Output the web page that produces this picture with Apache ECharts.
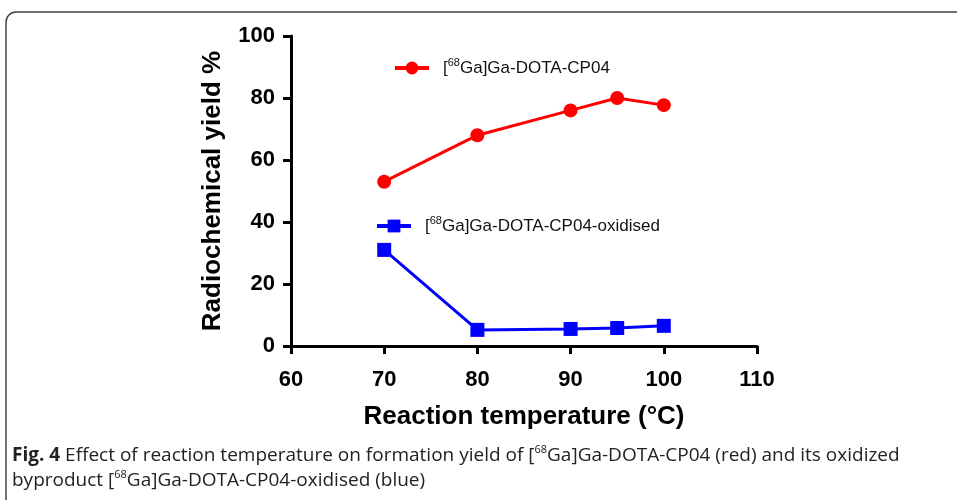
<!DOCTYPE html>
<html><head><meta charset="utf-8">
<script src="https://cdn.jsdelivr.net/npm/echarts@6/dist/echarts.min.js"></script>
<style>html,body{margin:0;padding:0;background:#fff}#c{width:957px;height:500px}</style>
</head><body><div id="c"></div>
<script>
const temps = [70, 80, 90, 95, 100];
const yieldMain = [53, 68, 76, 80, 77.7];
const yieldOxidised = [31, 5.2, 5.5, 5.8, 6.5];
const seriesNames = ['[68Ga]Ga-DOTA-CP04', '[68Ga]Ga-DOTA-CP04-oxidised'];
const legendLabels = ['[{sup|68}Ga]Ga-DOTA-CP04', '[{sup|68}Ga]Ga-DOTA-CP04-oxidised'];
const xTicks = [60, 70, 80, 90, 100, 110];
const yTicks = [0, 20, 40, 60, 80, 100];
const xTitle = 'Reaction temperature (°C)';
const yTitle = 'Radiochemical yield %';
const captionBold = 'Fig. 4';
const captionLine1 = ' Effect of reaction temperature on formation yield of [{s|68}Ga]Ga-DOTA-CP04 (red) and its oxidized';
const captionLine2 = 'byproduct [{s|68}Ga]Ga-DOTA-CP04-oxidised (blue)';

const F = '"Liberation Sans", Arial, sans-serif';
const chart = echarts.init(document.getElementById('c'), null, {renderer: 'canvas'});
const legendText = (pad) => ({
  fontFamily: F, fontSize: 17, color: '#111', lineHeight: 22, padding: [0, 0, 0, pad],
  rich: { sup: { fontFamily: F, fontSize: 11, color: '#111', lineHeight: 11, verticalAlign: 'top' } }
});
const capFont = '"Open Sans", sans-serif';
const supCap = { fontFamily: capFont, fontSize: 11, fill: '#222', lineHeight: 11, verticalAlign: 'top' };
chart.setOption({
  animation: false,
  graphic: [
    { type: 'rect', shape: { x: 6, y: 12, width: 1100, height: 700, r: 10 }, style: { fill: 'none', stroke: '#444', lineWidth: 1.5 }, z: -1 },
    { type: 'text', left: 12, top: 444, style: {
        text: '{b|' + captionBold + '}' + captionLine1, fontFamily: capFont, fontSize: 19, lineHeight: 24, fill: '#222',
        rich: { b: { fontFamily: capFont, fontSize: 19, lineHeight: 24, fontWeight: 'bold', fill: '#222' }, s: supCap } } },
    { type: 'text', left: 12, top: 469, style: {
        text: captionLine2, fontFamily: capFont, fontSize: 19, lineHeight: 24, fill: '#222',
        rich: { s: supCap } } }
  ],
  grid: { left: 291, right: 200, top: 36, bottom: 154, containLabel: false },
  legend: [
    { data: [seriesNames[0]], left: 393, top: 57, padding: 0, itemWidth: 34, itemHeight: 16, itemGap: 16,
      lineStyle: { width: 4 }, formatter: () => legendLabels[0], textStyle: legendText(9) },
    { data: [seriesNames[1]], left: 375, top: 215, padding: 0, itemWidth: 34, itemHeight: 16, itemGap: 16,
      lineStyle: { width: 4 }, formatter: () => legendLabels[1], textStyle: legendText(9) }
  ],
  xAxis: {
    type: 'value', min: xTicks[0], max: xTicks[xTicks.length - 1], interval: 10,
    name: xTitle, nameLocation: 'middle', nameGap: 58,
    nameTextStyle: { fontFamily: F, fontWeight: 'bold', fontSize: 26, color: '#000' },
    axisLine: { show: true, onZero: false, lineStyle: { color: '#000', width: 3 } },
    axisTick: { show: true, length: 8, lineStyle: { color: '#000', width: 3 } },
    axisLabel: { fontFamily: F, fontWeight: 'bold', fontSize: 22, color: '#000', margin: 23 },
    splitLine: { show: false }
  },
  yAxis: {
    type: 'value', min: yTicks[0], max: yTicks[yTicks.length - 1], interval: 20,
    name: yTitle, nameLocation: 'middle', nameGap: 65,
    nameTextStyle: { fontFamily: F, fontWeight: 'bold', fontSize: 26, color: '#000' },
    axisLine: { show: true, onZero: false, lineStyle: { color: '#000', width: 3 } },
    axisTick: { show: true, length: 8, lineStyle: { color: '#000', width: 3 } },
    axisLabel: { fontFamily: F, fontWeight: 'bold', fontSize: 22, color: '#000', margin: 16 },
    splitLine: { show: false }
  },
  series: [
    { name: seriesNames[0], type: 'line', data: temps.map((t, i) => [t, yieldMain[i]]),
      symbol: 'circle', symbolSize: 14, color: '#ff0000',
      lineStyle: { color: '#ff0000', width: 3 }, itemStyle: { color: '#ff0000' } },
    { name: seriesNames[1], type: 'line', data: temps.map((t, i) => [t, yieldOxidised[i]]),
      symbol: 'rect', symbolSize: 14, color: '#0000ff',
      lineStyle: { color: '#0000ff', width: 3 }, itemStyle: { color: '#0000ff' } }
  ]
});
</script></body></html>
